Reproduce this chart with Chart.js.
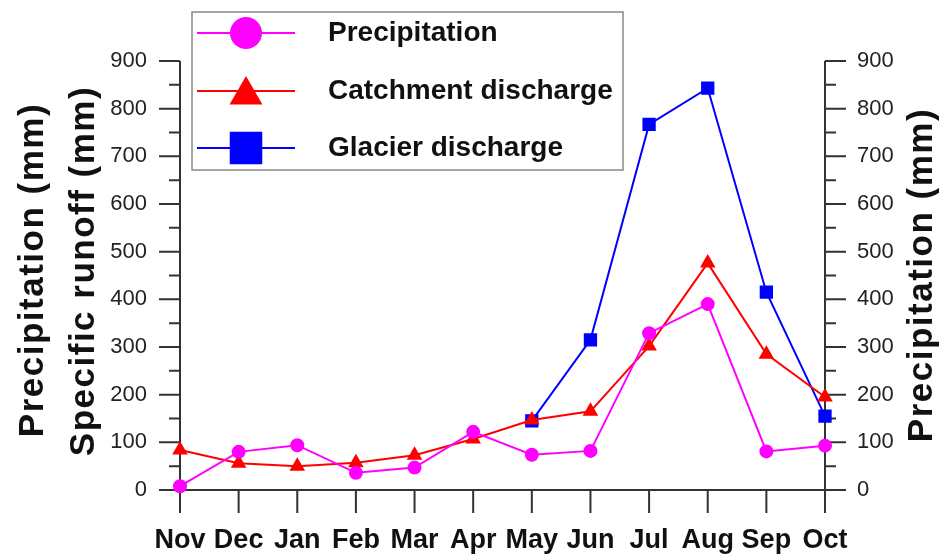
<!DOCTYPE html>
<html>
<head>
<meta charset="utf-8">
<script src="https://cdn.jsdelivr.net/npm/chart.js@4"></script>
<style>
  html, body { margin: 0; padding: 0; background: #fff; }
  #wrap { width: 945px; height: 554px; position: relative; }
</style>
</head>
<body>
<div id="wrap"><canvas id="chart" width="945" height="554"></canvas></div>
<script>
// Monthly data
const months = ['Nov', 'Dec', 'Jan', 'Feb', 'Mar', 'Apr', 'May', 'Jun', 'Jul', 'Aug', 'Sep', 'Oct'];
const precipitation = [8, 80, 94, 36, 47, 122, 74, 82, 329, 390, 81, 93];
const catchmentDischarge = [84, 56, 50, 57, 73, 107, 147, 165, 302, 476, 285, 195];
const glacierDischarge = [null, null, null, null, null, null, 145, 315, 767, 843, 415, 155];
const axisMin = 0;
const axisMax = 900;
const majorStep = 100;
const minorStep = 50;

const FONT = '"Liberation Sans", Arial, sans-serif';
const AXIS_COLOR = '#333';

// Draw axis lines and tick marks (major + minor) by hand
const axesPlugin = {
  id: 'axes',
  beforeDatasetsDraw(chart) {
    const { ctx, chartArea: a, scales } = chart;
    ctx.save();
    ctx.strokeStyle = AXIS_COLOR;
    ctx.lineWidth = 2;
    ctx.beginPath();
    // x axis, a bit wider than the plot
    ctx.moveTo(a.left - 21, a.bottom);
    ctx.lineTo(a.right + 21, a.bottom);
    // left and right y axes
    ctx.moveTo(a.left, a.top);
    ctx.lineTo(a.left, a.bottom);
    ctx.moveTo(a.right, a.top);
    ctx.lineTo(a.right, a.bottom);
    // y ticks
    for (let v = axisMin; v <= axisMax; v += minorStep) {
      const major = v % majorStep === 0;
      const len = major ? 21 : 11;
      const yl = scales.y.getPixelForValue(v);
      const yr = scales.y1.getPixelForValue(v);
      ctx.moveTo(a.left - len, yl);
      ctx.lineTo(a.left, yl);
      ctx.moveTo(a.right, yr);
      ctx.lineTo(a.right + len, yr);
    }
    // x ticks
    months.forEach((m, i) => {
      const x = scales.x.getPixelForValue(i);
      ctx.moveTo(x, a.bottom);
      ctx.lineTo(x, a.bottom + 23);
    });
    ctx.stroke();
    ctx.restore();
  },
  afterDraw(chart) {
    const { ctx } = chart;
    ctx.save();
    ctx.fillStyle = '#111';
    ctx.font = 'bold 35px ' + FONT;
    ctx.letterSpacing = '1.5px';
    ctx.textAlign = 'center';
    ctx.textBaseline = 'middle';
    const vTitle = (text, x, y) => {
      ctx.save();
      ctx.translate(x, y);
      ctx.rotate(-Math.PI / 2);
      ctx.fillText(text, 0, 0);
      ctx.restore();
    };
    vTitle('Precipitation (mm)', 33, 270);
    vTitle('Specific runoff (mm)', 84, 271);
    vTitle('Precipitation (mm)', 922, 275);
    ctx.letterSpacing = '0px';

    // legend box
    ctx.fillStyle = '#fff';
    ctx.fillRect(192, 12, 431, 158);
    ctx.strokeStyle = '#888';
    ctx.lineWidth = 1.5;
    ctx.strokeRect(192, 12, 431, 158);
    const rows = [33, 91, 148];
    chart.data.datasets.forEach((ds, i) => {
      const y = rows[i];
      ctx.strokeStyle = ds.borderColor;
      ctx.lineWidth = 2;
      ctx.beginPath();
      ctx.moveTo(197, y);
      ctx.lineTo(295, y);
      ctx.stroke();
      ctx.fillStyle = ds.borderColor;
      Chart.helpers.drawPoint(ctx, {
        pointStyle: ds.pointStyle,
        radius: ds.legendRadius,
        rotation: 0,
        borderWidth: 0
      }, 246, ds.pointStyle === 'triangle' ? y + 4 : y);
      ctx.fillStyle = '#111';
      ctx.font = 'bold 28px ' + FONT;
      ctx.textAlign = 'left';
      ctx.fillText(ds.label, 328, y);
    });
    ctx.restore();
  }
};

const tickFont = { family: FONT, size: 22 };

new Chart(document.getElementById('chart'), {
  type: 'line',
  data: {
    labels: months,
    datasets: [
      {
        label: 'Precipitation',
        data: precipitation,
        yAxisID: 'y1',
        borderColor: '#ff00ff',
        backgroundColor: '#ff00ff',
        pointStyle: 'circle',
        pointRadius: 6,
        legendRadius: 16,
        borderWidth: 2,
        clip: false
      },
      {
        label: 'Catchment discharge',
        data: catchmentDischarge,
        yAxisID: 'y',
        borderColor: '#ff0000',
        backgroundColor: '#ff0000',
        pointStyle: 'triangle',
        pointRadius: 7,
        legendRadius: 19,
        borderWidth: 2,
        clip: false
      },
      {
        label: 'Glacier discharge',
        data: glacierDischarge,
        yAxisID: 'y',
        borderColor: '#0000ff',
        backgroundColor: '#0000ff',
        pointStyle: 'rect',
        pointRadius: 8,
        legendRadius: 23,
        borderWidth: 2,
        clip: false
      }
    ]
  },
  options: {
    responsive: false,
    animation: false,
    layout: { padding: { top: 61, left: 0, right: 0, bottom: 0 } },
    elements: { line: { tension: 0 }, point: { borderWidth: 0 } },
    scales: {
      x: {
        type: 'category',
        offset: false,
        grid: { display: false, drawTicks: false },
        border: { display: false },
        ticks: {
          color: '#111',
          padding: 34,
          maxRotation: 0,
          autoSkip: false,
          font: { family: FONT, size: 27, weight: 'bold' }
        },
        afterFit: s => { s.height = 64; }
      },
      y: {
        position: 'left',
        min: axisMin,
        max: axisMax,
        grid: { display: false, drawTicks: false },
        border: { display: false },
        ticks: { stepSize: majorStep, color: '#222', padding: 33, font: tickFont },
        afterFit: s => { s.width = 180; }
      },
      y1: {
        position: 'right',
        min: axisMin,
        max: axisMax,
        grid: { display: false, drawTicks: false },
        border: { display: false },
        ticks: { stepSize: majorStep, color: '#222', padding: 32, font: tickFont },
        afterFit: s => { s.width = 120; }
      }
    },
    plugins: {
      legend: { display: false },
      tooltip: { enabled: false }
    }
  },
  plugins: [axesPlugin]
});
</script>
</body>
</html>
